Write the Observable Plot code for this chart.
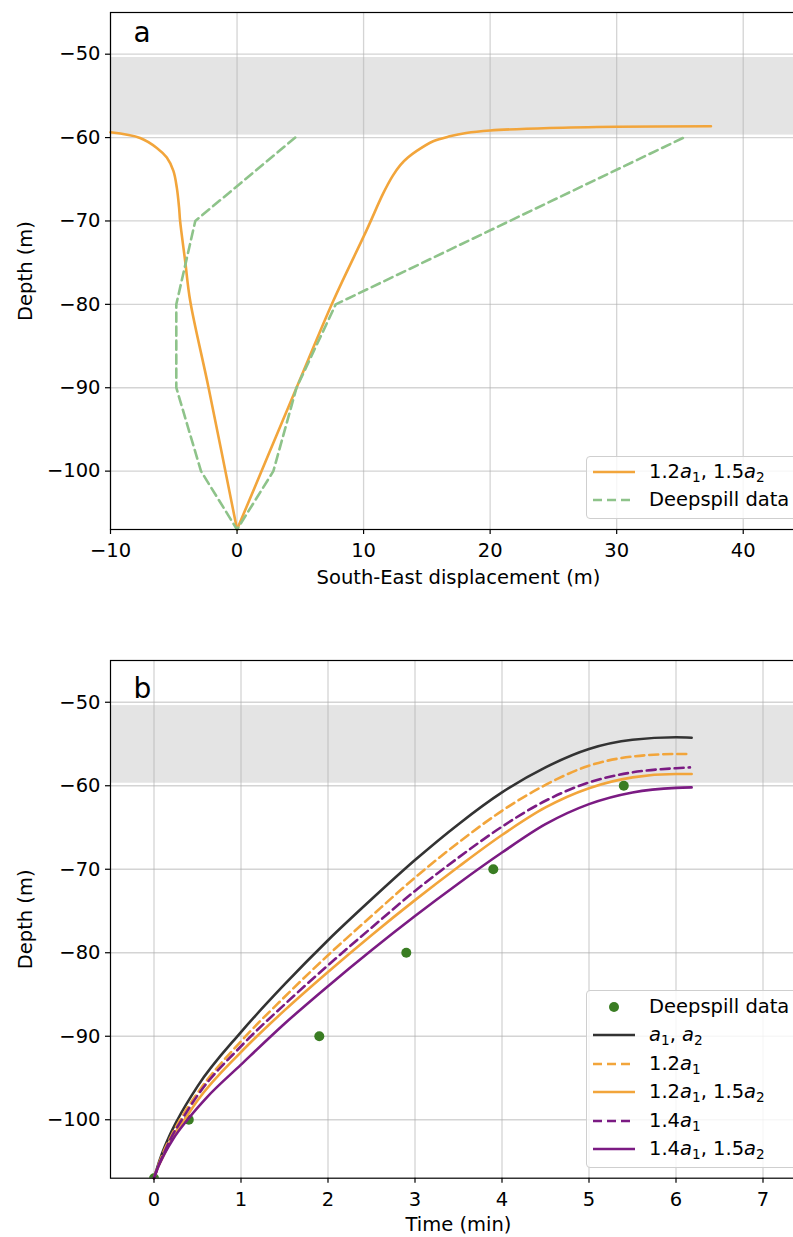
<!DOCTYPE html>
<html>
<head>
<meta charset="utf-8">
<script src="https://cdn.jsdelivr.net/npm/d3@7"></script>
<script src="https://cdn.jsdelivr.net/npm/@observablehq/plot@0.6"></script>
<style>
  body { margin: 0; background: #fff; }
  #wrap { position: relative; width: 793px; height: 1237px; overflow: hidden; font-family: "DejaVu Sans", sans-serif; background: #fff; }
  #wrap > svg { position: absolute; left: 0; display: block; max-width: none !important; }
  .legend { position: absolute; left: 586px; width: 260px; border: 1px solid #cfcfcf; border-radius: 4px;
            background: rgba(255,255,255,0.8); box-sizing: border-box; font-size: 19.5px; color: #000; }
  .row { position: absolute; left: 0; height: 28px; width: 100%; }
  .row svg { position: absolute; left: 6px; top: 9px; }
  .row span { position: absolute; left: 62px; top: 0; line-height: 28px; white-space: nowrap; }
  .row i { font-style: oblique; }
  .row sub { font-size: 0.7em; vertical-align: -0.28em; line-height: 0; }
</style>
</head>
<body>
<div id="wrap"></div>
<script>
// ---------- Panel a data ----------
const dispModelLeftX  = [-10, -7.66, -6.34, -5.55, -5.03, -4.76, -4.58, -4.5, -4.1, -3.7, -2.25, 0];
const dispModelLeftY  = [-59.37, -60.05, -61.24, -62.4, -64.0, -66.0, -68.4, -70, -74.8, -79.6, -90, -107];
const dispModelRightX = [0, 4.7, 7.6, 10.24, 11.55, 12.3, 12.9, 13.5, 14.2, 15.5, 16.8, 18.1, 20, 24.7, 30, 37.45];
const dispModelRightY = [-107, -90, -79.6, -71.1, -66.7, -64.6, -63.3, -62.4, -61.6, -60.44, -59.85, -59.45, -59.15, -58.85, -58.7, -58.65];
const deepspillDispX  = [4.6, -3.3, -4.8, -4.8, -2.85, 0, 2.87, 4.7, 7.8, 35.3];
const deepspillDispY  = [-60, -70, -80, -90, -100, -107, -100, -90, -80, -60];
const xTicksA = [-10, 0, 10, 20, 30, 40];

// ---------- Panel b data ----------
const tBase   = [0, 0.026, 0.09, 0.17, 0.27, 0.5, 1, 1.5, 2, 2.5, 3, 3.5, 4, 4.5, 5, 5.5, 6, 6.18];
const zBase   = [-107, -106.1, -104.1, -102.1, -100, -96.0, -89.5, -83.8, -78.5, -73.6, -68.9, -64.6, -60.8, -57.8, -55.6, -54.5, -54.2, -54.25];
const t12     = [0, 0.028, 0.1, 0.19, 0.3, 0.5, 1, 1.5, 2, 2.5, 3, 3.5, 4, 4.5, 5, 5.5, 6, 6.15];
const z12     = [-107, -106.1, -104.1, -102.1, -100, -96.8, -90.6, -85.3, -80.3, -75.6, -71.0, -66.8, -63.0, -59.9, -57.6, -56.5, -56.2, -56.2];
const t12_15  = [0, 0.03, 0.12, 0.21, 0.35, 0.5, 1, 1.5, 2, 2.5, 3, 3.5, 4, 4.5, 5, 5.5, 6, 6.18];
const z12_15  = [-107, -106.1, -104.1, -102.1, -100, -97.7, -91.9, -86.9, -82.3, -77.9, -73.7, -69.7, -65.9, -62.6, -60.3, -59.0, -58.6, -58.6];
const t14     = [0, 0.03, 0.11, 0.2, 0.32, 0.5, 1, 1.5, 2, 2.5, 3, 3.5, 4, 4.5, 5, 5.5, 6, 6.16];
const z14     = [-107, -106.1, -104.1, -102.1, -100, -97.1, -91.2, -86.2, -81.5, -77.0, -72.6, -68.6, -64.9, -61.8, -59.6, -58.4, -57.9, -57.8];
const t14_15  = [0, 0.03, 0.12, 0.22, 0.4, 0.6, 1, 1.5, 2, 2.5, 3, 3.5, 4, 4.5, 5, 5.5, 6, 6.18];
const z14_15  = [-107, -106.1, -104.1, -102.3, -99.8, -97.4, -93.4, -88.5, -84.0, -79.7, -75.6, -71.7, -68.0, -64.6, -62.2, -60.8, -60.25, -60.2];
const deepspillTime  = [0, 0.4, 1.9, 2.9, 3.9, 5.4];
const deepspillDepth = [-107, -100, -90, -80, -70, -60];
const xTicksB = [0, 1, 2, 3, 4, 5, 6, 7];

// ---------- shared ----------
const yTicks = [-100, -90, -80, -70, -60, -50];
const bandLow = -59.7, bandHigh = -50.4;

const ORANGE = "#f2a53b", GREEN_L = "#8ec38a", GREEN_D = "#3a7d23", PURPLE = "#7b1b83", DARK = "#333333";
const DASH = "9,5";
const FS = 19.5;
const fmt = d3.format("d");
const pts = (xs, ys) => xs.map((x, i) => ({x, y: ys[i]}));
const gridStyle = {stroke: "#b0b0b0", strokeOpacity: 0.55, strokeWidth: 1.3};
const W = 806;
const baseStyle = {fontFamily: "DejaVu Sans", fontSize: FS + "px", color: "black", background: "white", overflow: "visible", maxWidth: "none"};

function axes(xTicks) {
  return [
    Plot.frame({stroke: "black", strokeWidth: 1.2}),
    Plot.axisX({ticks: xTicks, tickFormat: fmt, tickSize: 5, tickPadding: 9, label: null, strokeWidth: 1.2}),
    Plot.axisY({ticks: yTicks, tickFormat: fmt, tickSize: 5, tickPadding: 5, label: null, strokeWidth: 1.2})
  ];
}
function labels(xLabel, xDy, panel, panelDy) {
  return [
    Plot.text([xLabel], {frameAnchor: "bottom", lineAnchor: "middle", dy: xDy, fontSize: FS}),
    Plot.text(["Depth (m)"], {frameAnchor: "left", lineAnchor: "middle", textAnchor: "middle", dx: -85, rotate: -90, fontSize: FS}),
    Plot.text([panel], {frameAnchor: "top-left", dx: 23, dy: panelDy, textAnchor: "start", lineAnchor: "top", fontSize: 28})
  ];
}

const bands = [{y1: bandLow, y2: bandHigh}];

const plotA = Plot.plot({
  width: W, height: 620,
  marginLeft: 110, marginRight: 0, marginTop: 12, marginBottom: 91,
  style: baseStyle,
  x: {domain: [-10, 45]},
  y: {domain: [-107, -45]},
  marks: [
    Plot.rect(bands, {y1: "y1", y2: "y2", fill: "#e4e4e4"}),
    Plot.gridX({ticks: xTicksA, ...gridStyle}),
    Plot.gridY({ticks: yTicks, ...gridStyle}),
    Plot.line(pts(dispModelLeftX, dispModelLeftY), {x: "x", y: "y", curve: "catmull-rom", stroke: ORANGE, strokeWidth: 2.6}),
    Plot.line(pts(dispModelRightX, dispModelRightY), {x: "x", y: "y", curve: "catmull-rom", stroke: ORANGE, strokeWidth: 2.6}),
    Plot.line(pts(deepspillDispX, deepspillDispY), {x: "x", y: "y", stroke: GREEN_L, strokeWidth: 2.6, strokeDasharray: DASH}),
    ...axes(xTicksA),
    ...labels("South-East displacement (m)", 48.5, "a", 9.8)
  ]
});

const plotB = Plot.plot({
  width: W, height: 617,
  marginLeft: 110, marginRight: 0, marginTop: 40, marginBottom: 59.3,
  style: baseStyle,
  x: {domain: [-0.5, 7.5]},
  y: {domain: [-107, -45]},
  marks: [
    Plot.rect(bands, {y1: "y1", y2: "y2", fill: "#e4e4e4"}),
    Plot.gridX({ticks: xTicksB, ...gridStyle}),
    Plot.gridY({ticks: yTicks, ...gridStyle}),
    Plot.dot(pts(deepspillTime, deepspillDepth), {x: "x", y: "y", r: 5, fill: GREEN_D, clip: true}),
    Plot.line(pts(tBase, zBase), {x: "x", y: "y", curve: "monotone-x", stroke: DARK, strokeWidth: 2.6}),
    Plot.line(pts(t12, z12), {x: "x", y: "y", curve: "monotone-x", stroke: ORANGE, strokeWidth: 2.6, strokeDasharray: DASH}),
    Plot.line(pts(t12_15, z12_15), {x: "x", y: "y", curve: "monotone-x", stroke: ORANGE, strokeWidth: 2.6}),
    Plot.line(pts(t14, z14), {x: "x", y: "y", curve: "monotone-x", stroke: PURPLE, strokeWidth: 2.6, strokeDasharray: DASH}),
    Plot.line(pts(t14_15, z14_15), {x: "x", y: "y", curve: "monotone-x", stroke: PURPLE, strokeWidth: 2.6}),
    ...axes(xTicksB),
    ...labels("Time (min)", 46.5, "b", 17.4)
  ]
});

const wrap = document.getElementById("wrap");
plotA.style.top = "0px";
plotB.style.top = "620px";
wrap.appendChild(plotA);
wrap.appendChild(plotB);

// ---------- legends ----------
const legendA = [
  {label: "1.2<i>a</i><sub>1</sub>, 1.5<i>a</i><sub>2</sub>", kind: "line", color: ORANGE, dash: null},
  {label: "Deepspill data", kind: "line", color: GREEN_L, dash: DASH}
];
const legendB = [
  {label: "Deepspill data", kind: "dot", color: GREEN_D},
  {label: "<i>a</i><sub>1</sub>, <i>a</i><sub>2</sub>", kind: "line", color: DARK, dash: null},
  {label: "1.2<i>a</i><sub>1</sub>", kind: "line", color: ORANGE, dash: DASH},
  {label: "1.2<i>a</i><sub>1</sub>, 1.5<i>a</i><sub>2</sub>", kind: "line", color: ORANGE, dash: null},
  {label: "1.4<i>a</i><sub>1</sub>", kind: "line", color: PURPLE, dash: DASH},
  {label: "1.4<i>a</i><sub>1</sub>, 1.5<i>a</i><sub>2</sub>", kind: "line", color: PURPLE, dash: null}
];

function makeLegend(items, top, height, firstCenter, pitch) {
  const box = document.createElement("div");
  box.className = "legend";
  box.style.top = top + "px";
  box.style.height = height + "px";
  items.forEach((it, i) => {
    const row = document.createElement("div");
    row.className = "row";
    row.style.top = (firstCenter + i * pitch - 14 - 1) + "px";
    const sw = it.kind === "dot"
      ? `<svg width="42" height="10"><circle cx="21" cy="5" r="5" fill="${it.color}"/></svg>`
      : `<svg width="42" height="10"><line x1="0" x2="42" y1="5" y2="5" stroke="${it.color}" stroke-width="2.6" ${it.dash ? `stroke-dasharray="${it.dash}"` : ""}/></svg>`;
    row.innerHTML = sw + `<span>${it.label}</span>`;
    box.appendChild(row);
  });
  wrap.appendChild(box);
}
makeLegend(legendA, 456, 63, 16, 28);
makeLegend(legendB, 990, 178, 16.7, 28.5);
</script>
</body>
</html>
